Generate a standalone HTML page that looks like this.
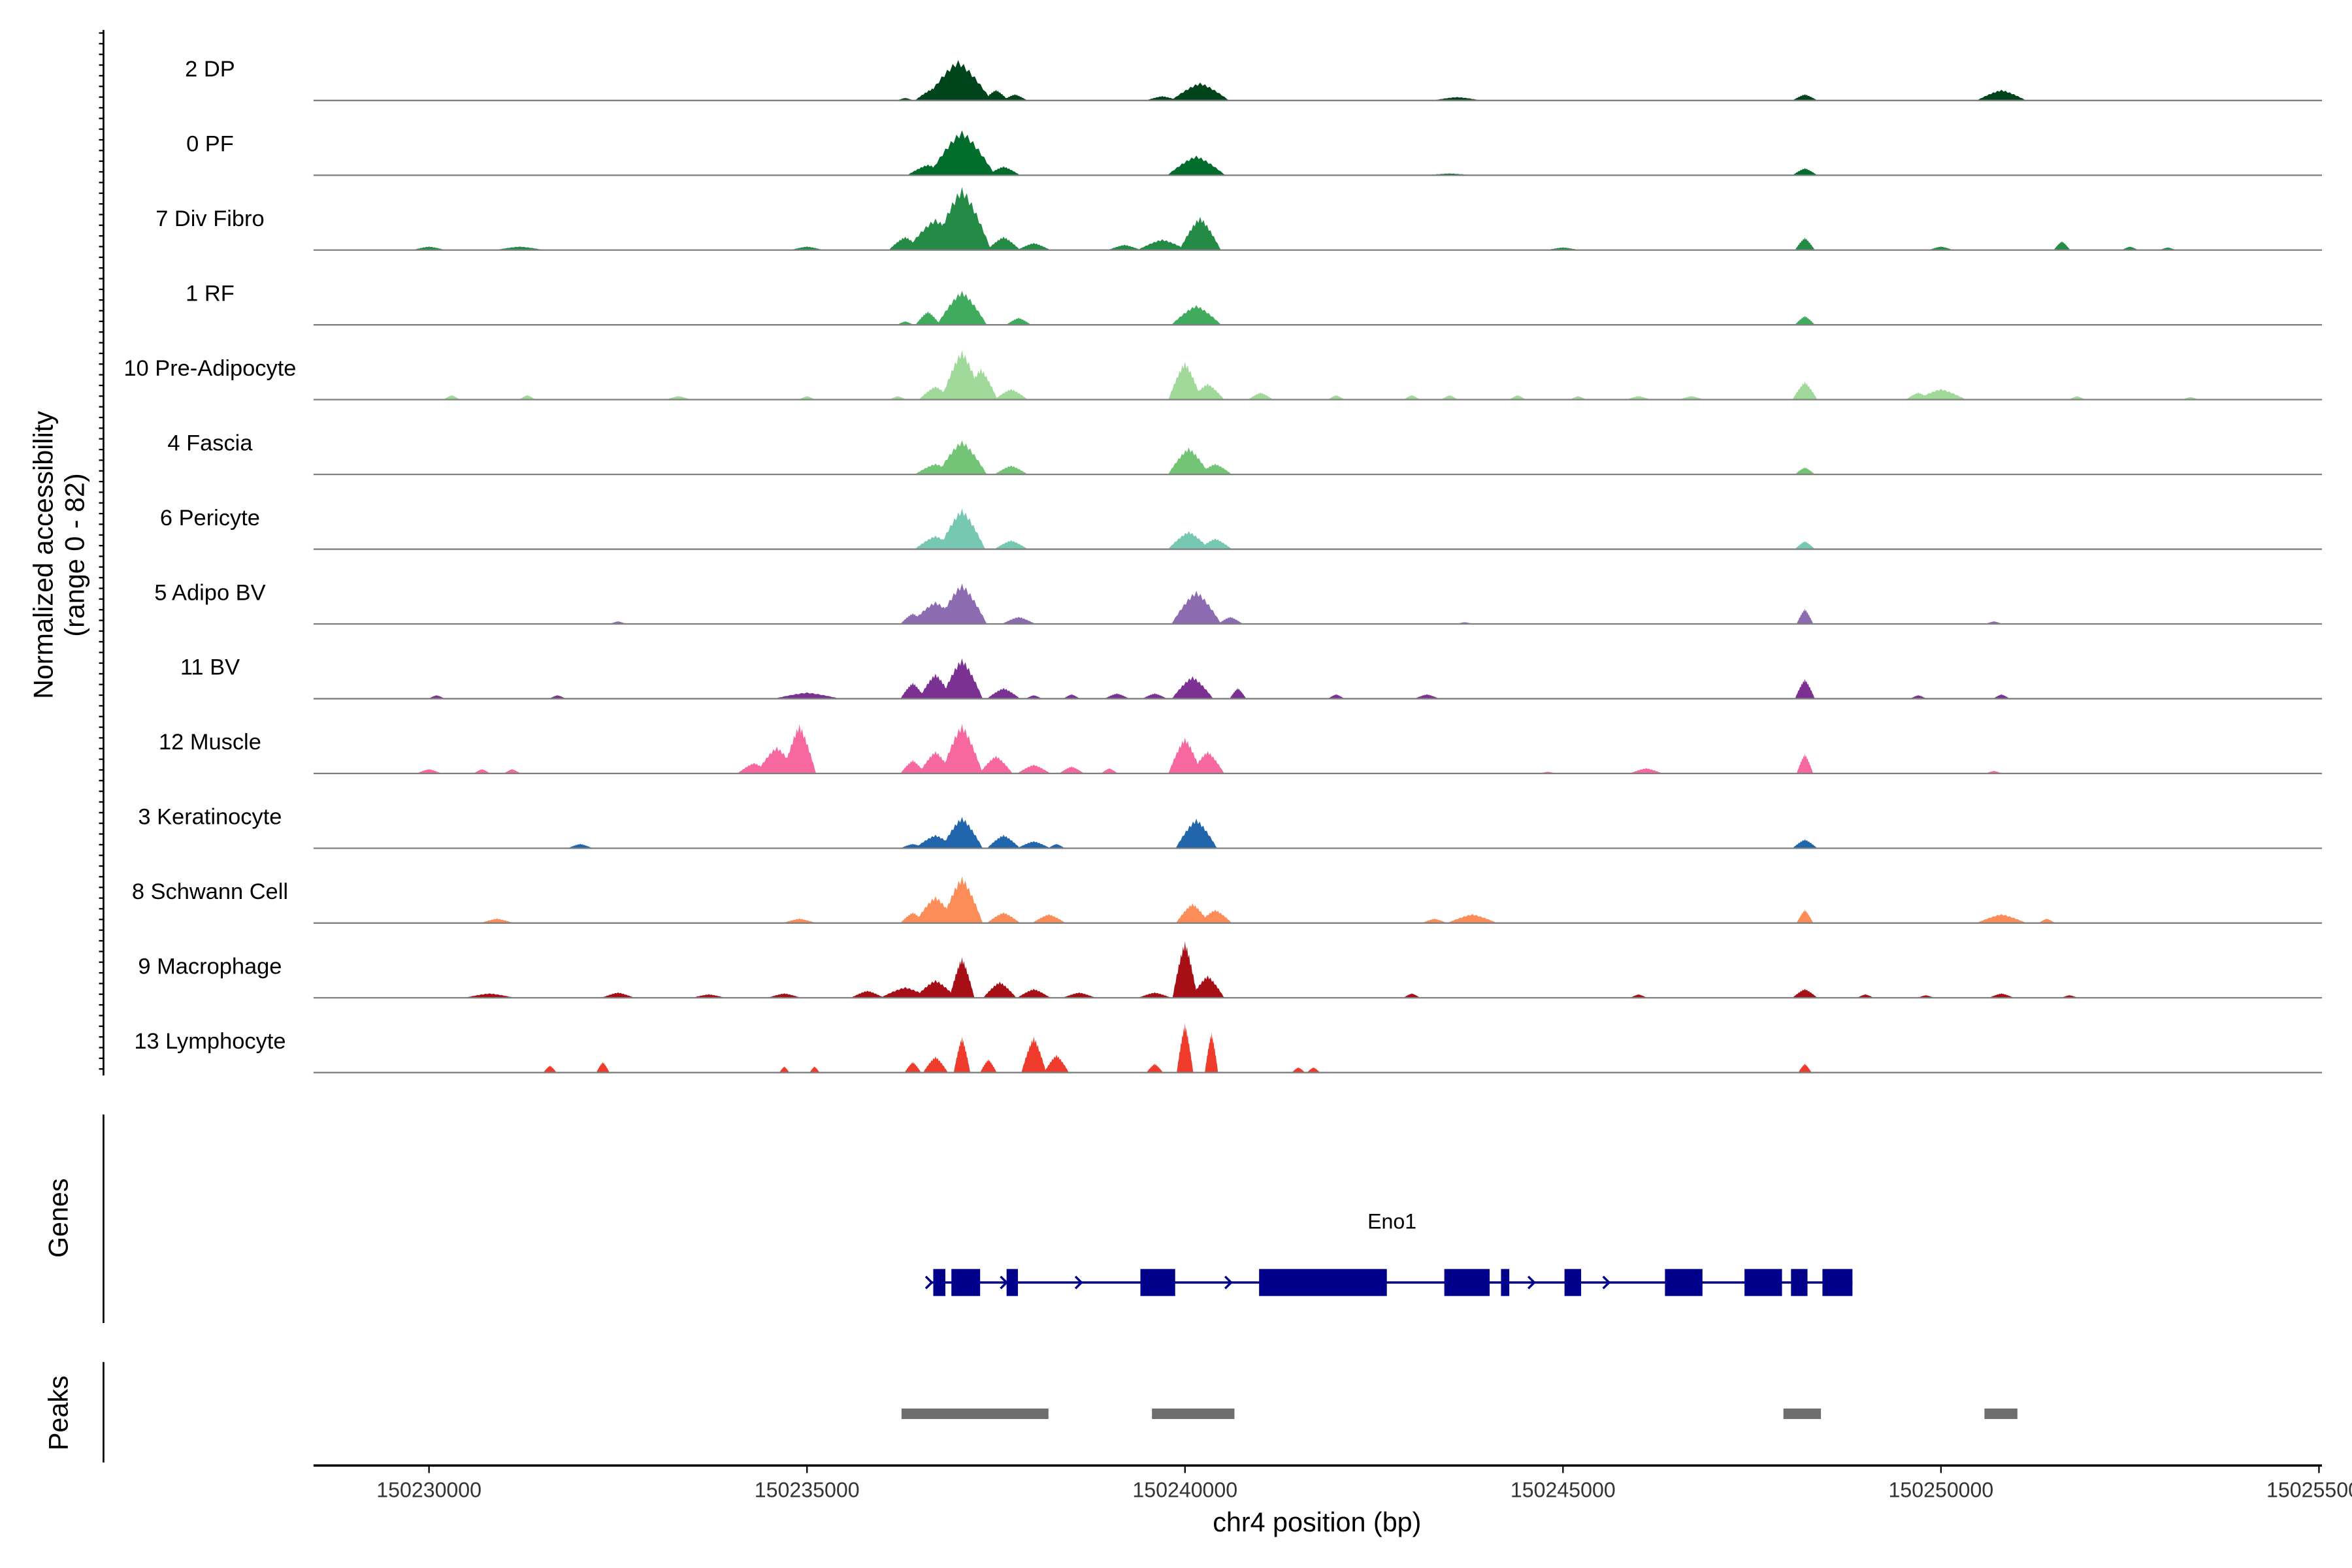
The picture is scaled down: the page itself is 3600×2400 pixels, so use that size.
<!DOCTYPE html>
<html><head><meta charset="utf-8"><style>
html,body{margin:0;padding:0;background:#fff;}
svg{display:block;font-family:"Liberation Sans",Arial,sans-serif;}
</style></head><body>
<svg id="chart" width="3600" height="2400" viewBox="0 0 1568 1045.33" xmlns="http://www.w3.org/2000/svg">
<rect width="1568" height="1045.33" fill="#fff"/>
<g id="tracks"></g>
<g id="leftaxis"></g>
<text transform="translate(35,370) rotate(-90)" text-anchor="middle" font-size="18">Normalized accessibility</text>
<text transform="translate(56,370) rotate(-90)" text-anchor="middle" font-size="18">(range 0 - 82)</text>
<line x1="69" y1="743" x2="69" y2="882" stroke="#000" stroke-width="1.2"/>
<text transform="translate(45,812) rotate(-90)" text-anchor="middle" font-size="18">Genes</text>
<g id="genes"></g>
<line x1="69" y1="908" x2="69" y2="975" stroke="#000" stroke-width="1.2"/>
<text transform="translate(45,942) rotate(-90)" text-anchor="middle" font-size="18">Peaks</text>
<g id="peaks"></g>
<g id="xaxis"></g>
<text x="878" y="1021" text-anchor="middle" font-size="18">chr4 position (bp)</text>
</svg>
<script>
const trackNames=["2 DP","0 PF","7 Div Fibro","1 RF","10 Pre-Adipocyte","4 Fascia","6 Pericyte","5 Adipo BV","11 BV","12 Muscle","3 Keratinocyte","8 Schwann Cell","9 Macrophage","13 Lymphocyte"];
const trackColors=["#00441b","#006d2c","#238b45","#41ab5d","#a1d99b","#74c476","#76c8b0","#8c6bb1","#7a3192","#f768a1","#2166ac","#fc8d59","#a50f15","#ef3b2c"];
const xTicks=[150230000,150235000,150240000,150245000,150250000,150255000];
const peakRegions=[[150236250,150238194],[150239563,150240654],[150247916,150248412],[150250575,150251011]];
const exons=[[150236670,150236830],[150236910,150237290],[150237640,150237790],[150239410,150239870],[150240980,150242670],[150243430,150244030],[150244180,150244290],[150245020,150245240],[150246349,150246845],[150247401,150247897],[150248016,150248234],[150248432,150248829]];
const strandArrows=[150236650,150237640,150238630,150240610,150244620,150245610];
const geneSpan=[150236630,150248829];
const p0=[[150237000,45,400],[150236700,15,250],[150237500,12,150],[150237750,7,150],[150240200,20,350],[150239700,5,200],[150243600,4,300],[150248200,7,150],[150250800,12,300],[150236300,3,100]];
const p1=[[150237050,50,400],[150236600,12,250],[150237600,10,200],[150240150,22,350],[150248200,8,150],[150243500,2,300]];
const p2=[[150237050,70,350],[150236700,35,350],[150236300,15,200],[150237600,15,200],[150238000,8,200],[150240200,37,250],[150239700,12,300],[150239200,6,200],[150248200,14,120],[150251600,10,100],[150230000,4,200],[150231200,4,300],[150235000,4,200],[150245000,3,200],[150250000,4,150],[150253000,3,100],[150252500,4,100]];
const p3=[[150237050,38,300],[150236600,15,150],[150237800,8,150],[150240150,22,300],[150248200,10,120],[150236300,4,100]];
const p4=[[150237050,55,250],[150237300,35,200],[150236700,15,200],[150237700,12,200],[150240000,42,200],[150240300,18,200],[150241000,8,150],[150248200,20,150],[150250000,12,300],[150249700,8,150],[150230300,5,100],[150231300,5,100],[150233300,4,150],[150235000,4,100],[150236200,4,100],[150242000,5,100],[150243000,5,100],[150243500,5,100],[150246000,4,150],[150246700,4,150],[150251800,4,100],[150253300,3,100],[150244400,5,100],[150245200,4,100]];
const p5=[[150237050,38,300],[150236700,12,250],[150237700,10,200],[150240050,30,250],[150240400,12,200],[150248200,8,120]];
const p6=[[150237050,45,280],[150236700,15,250],[150237700,10,200],[150240050,20,250],[150240400,12,200],[150248200,9,120]];
const p7=[[150237050,45,300],[150236700,25,300],[150236400,12,150],[150237800,8,200],[150240150,37,300],[150240600,8,150],[150248200,17,100],[150250700,3,100],[150232500,3,100],[150243700,2,100]];
const p8=[[150237050,45,250],[150236700,28,200],[150236400,18,150],[150237600,12,200],[150240100,25,250],[150240700,12,100],[150239100,6,150],[150239600,6,150],[150235000,7,400],[150248200,22,120],[150250800,5,100],[150249700,4,100],[150230100,4,100],[150231700,4,100],[150242000,5,100],[150243200,5,150],[150238500,5,100],[150238000,4,100]];
const p9=[[150234900,55,200],[150234600,30,250],[150234300,12,200],[150237050,55,250],[150236700,25,200],[150236400,15,150],[150237500,20,200],[150238000,10,200],[150238500,8,150],[150239000,6,100],[150240000,40,200],[150240300,25,200],[150248200,22,100],[150230000,5,150],[150230700,5,100],[150231100,5,100],[150246100,6,200],[150250700,3,100],[150244800,2,100]];
const p10=[[150237050,35,250],[150236700,15,250],[150237600,15,200],[150238000,8,200],[150240150,33,250],[150248200,10,150],[150232000,5,150],[150236400,5,150],[150238300,5,100]];
const p11=[[150237050,52,250],[150236700,30,250],[150236400,12,150],[150237600,12,200],[150238200,10,200],[150240100,22,200],[150240400,15,200],[150230900,5,200],[150234900,5,200],[150243800,10,300],[150243300,5,150],[150248200,15,100],[150250800,10,300],[150251400,5,100]];
const p12=[[150237050,45,150],[150236700,20,250],[150236300,12,300],[150235800,8,200],[150237550,18,200],[150238000,10,200],[150238600,6,200],[150240000,63,150],[150240300,25,200],[150239600,6,200],[150248200,10,150],[150250800,5,150],[150230800,5,300],[150232500,6,200],[150234700,5,200],[150243000,5,100],[150246000,4,100],[150249000,4,100],[150249800,3,100],[150251700,3,100],[150233700,4,200]];
const p13=[[150237050,40,100],[150236700,18,150],[150237400,15,100],[150238000,40,150],[150238300,20,150],[150236400,12,100],[150240000,55,100],[150240350,45,80],[150239600,10,100],[150231600,8,80],[150232300,12,80],[150234700,7,60],[150235100,7,60],[150241500,6,80],[150241700,6,80],[150248200,10,80]];
const trackPeaks=[p0,p1,p2,p3,p4,p5,p6,p7,p8,p9,p10,p11,p12,p13];

const NS="http://www.w3.org/2000/svg";
const X0=209,X1=1548,D0=150228472,D1=150255040;
function xs(bp){return X0+(bp-D0)/(D1-D0)*(X1-X0);}
function ys(v,base){return base-v*0.6;}
function mk(tag,attrs,parent){const e=document.createElementNS(NS,tag);for(const k in attrs)e.setAttribute(k,attrs[k]);parent.appendChild(e);return e;}
const tg=document.getElementById('tracks');
trackNames.forEach((name,i)=>{
  const base=67+i*49.85;
  const g=mk('g',{},tg);
  
  
  trackPeaks[i].forEach(p=>{
    let pts=[];
    for(let k=-12;k<=12;k++){const t=k/12;const h=(1-Math.pow(Math.abs(t),1.3))*(1-0.15*(Math.abs(k)%2));pts.push(xs(p[0]+t*p[2]*1.1).toFixed(2)+','+ys(p[1]*h,base).toFixed(2));}
    const poly=mk('polygon',{points:pts.join(' '),fill:trackColors[i]},g);
    
    
  });
  const bl=mk('line',{x1:X0,x2:X1,y1:base,y2:base,stroke:'#7f7f7f','stroke-width':1},g);
  
  
  const t=mk('text',{x:140,y:base-16,'text-anchor':'middle','font-size':15},g);
  t.textContent=name;
  
  
});
const la=document.getElementById('leftaxis');
mk('line',{x1:69,x2:69,y1:20,y2:717,stroke:'#000','stroke-width':1.2},la);
for(let y=22;y<=716;y+=7.12){mk('line',{x1:66,x2:69,y1:y,y2:y,stroke:'#000','stroke-width':1},la);}
const gg=document.getElementById('genes');
const gl=mk('line',{x1:xs(geneSpan[0]),x2:xs(geneSpan[1]),y1:855,y2:855,stroke:'#00008b','stroke-width':1.5},gg);


strandArrows.forEach(a=>{const x=xs(a);const pa=mk('polyline',{points:(x-4)+',851 '+x+',855 '+(x-4)+',859',fill:'none',stroke:'#00008b','stroke-width':1.5},gg);

});
exons.forEach(e=>{const r=mk('rect',{x:xs(e[0]),y:846,width:xs(e[1])-xs(e[0]),height:18,fill:'#00008b'},gg);

});
const gt=mk('text',{x:928,y:819,'text-anchor':'middle','font-size':14},gg);gt.textContent='Eno1';


const pg=document.getElementById('peaks');
peakRegions.forEach(p=>{const r=mk('rect',{x:xs(p[0]),y:939,width:xs(p[1])-xs(p[0]),height:7,fill:'#6e6e6e'},pg);

});
const xa=document.getElementById('xaxis');
mk('line',{x1:X0,x2:X1,y1:977,y2:977,stroke:'#000','stroke-width':1.5},xa);
xTicks.forEach(v=>{const x=xs(v);mk('line',{x1:x,x2:x,y1:977,y2:982,stroke:'#000','stroke-width':1},xa);
const t=mk('text',{x:x,y:998,'text-anchor':'middle','font-size':14,fill:'#333'},xa);t.textContent=v;

});
</script>
</body></html>
